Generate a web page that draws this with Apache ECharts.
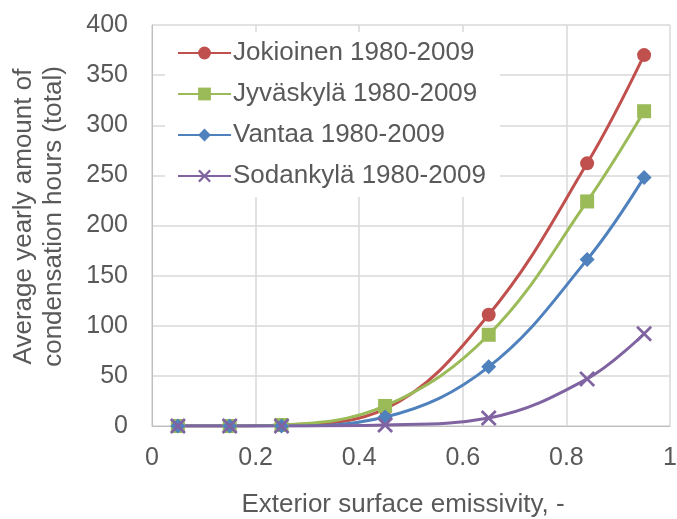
<!DOCTYPE html>
<html><head><meta charset="utf-8">
<script src="https://cdn.jsdelivr.net/npm/echarts@6/dist/echarts.min.js"></script>
<style>html,body{margin:0;padding:0;background:#fff}#c{width:677px;height:519px}</style>
</head><body><div id="c"></div>
<script>
const emissivity = [0.05, 0.15, 0.25, 0.45, 0.65, 0.84, 0.95];
const jokioinen = [0, 0, 1, 17, 111, 262, 370];
const jyvaskyla = [0, 0, 1, 20, 91, 224, 314];
const vantaa = [0, 0, 0, 9, 59, 166, 248];
const sodankyla = [0, 0, 0, 1, 8, 47, 92];
const seriesNames = ['Jokioinen 1980-2009', 'Jyväskylä 1980-2009', 'Vantaa 1980-2009', 'Sodankylä 1980-2009'];
const xTicks = [0, 0.2, 0.4, 0.6, 0.8, 1];
const yTicks = [0, 50, 100, 150, 200, 250, 300, 350, 400];

const colors = ['#C0504D', '#9BBB59', '#4F81BD', '#8064A2'];
const symbols = ['circle', 'rect', 'diamond',
  'path://M0,1.2L1.2,0L5,3.8L8.8,0L10,1.2L6.2,5L10,8.8L8.8,10L5,6.2L1.2,10L0,8.8L3.8,5Z'];
const sizes = [14, 14, 15, 16];
const allData = [jokioinen, jyvaskyla, vantaa, sodankyla];
const font = 'Liberation Sans, Arial, sans-serif';
const txt = '#595959';

const chart = echarts.init(document.getElementById('c'));
chart.setOption({
  animation: false,
  grid: {left: 152, top: 25, right: 7, bottom: 93, containLabel: false, outerBoundsMode: 'none'},
  legend: {
    left: 165, top: 32, orient: 'vertical',
    backgroundColor: '#fff', padding: [8, 14, 8, 12],
    itemWidth: 53, itemHeight: 16, itemGap: 15,
    textStyle: {fontFamily: font, fontSize: 26, color: txt, padding: [0, 0, 0, -3]},
    data: seriesNames
  },
  xAxis: {
    type: 'value', min: xTicks[0], max: xTicks[xTicks.length - 1], interval: 0.2,
    name: 'Exterior surface emissivity, -', nameLocation: 'middle', nameGap: 66,
    nameTextStyle: {fontFamily: font, fontSize: 26, color: txt, padding: [0, 16, 0, 0]},
    axisLine: {show: true, lineStyle: {color: '#bfbfbf', width: 1}},
    axisTick: {show: false},
    axisLabel: {fontFamily: font, fontSize: 25, color: txt, margin: 20},
    splitLine: {show: true, lineStyle: {color: '#d9d9d9', width: 1.5}}
  },
  yAxis: {
    type: 'value', min: yTicks[0], max: yTicks[yTicks.length - 1], interval: 50,
    name: 'Average yearly amount of\ncondensation hours (total)', nameLocation: 'middle', nameGap: 83,
    nameRotate: 90,
    nameTextStyle: {fontFamily: font, fontSize: 26, color: txt, lineHeight: 30, padding: [0, 0, 0, 18]},
    axisLine: {show: true, lineStyle: {color: '#bfbfbf', width: 1}},
    axisTick: {show: false},
    axisLabel: {fontFamily: font, fontSize: 25, color: txt, margin: 24},
    splitLine: {show: true, lineStyle: {color: '#d9d9d9', width: 1.5}}
  },
  series: seriesNames.map((n, i) => ({
    name: n, type: 'line', smooth: 0.38,
    data: emissivity.map((x, j) => [x, allData[i][j]]),
    symbol: symbols[i], symbolSize: sizes[i], showSymbol: true,
    color: colors[i],
    lineStyle: {color: colors[i], width: 3},
    itemStyle: {color: colors[i]}
  }))
});
</script></body></html>
